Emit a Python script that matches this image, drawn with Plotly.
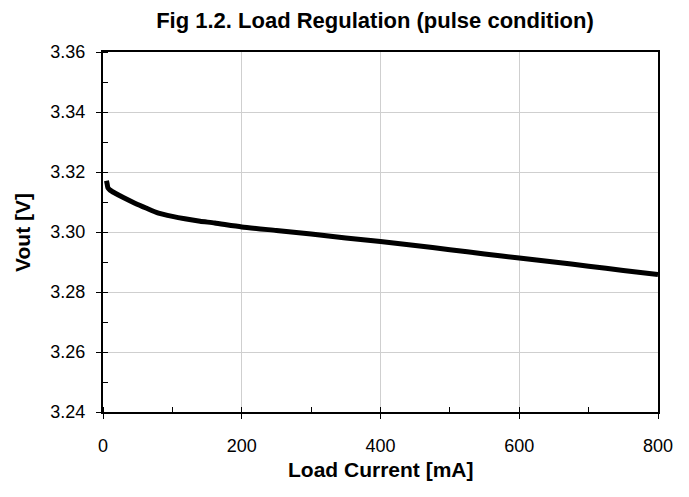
import plotly.graph_objects as go

current_ma = [5, 6, 7, 10, 17, 30, 46, 62, 80, 100, 118, 140, 161, 200, 250, 300, 350, 400, 450, 500, 550, 600, 650, 700, 750, 800]
vout_v = [3.3171, 3.3160, 3.3148, 3.3140, 3.3130, 3.3114, 3.3096, 3.3080, 3.3063, 3.3052, 3.3044, 3.3036, 3.3030, 3.3017, 3.3005, 3.2993, 3.2980, 3.2968, 3.2955, 3.2941, 3.2927, 3.2913, 3.2900, 3.2886, 3.2872, 3.2858]

x_ticks = [0, 200, 400, 600, 800]
y_ticks = [3.24, 3.26, 3.28, 3.30, 3.32, 3.34, 3.36]

title_text = "Fig 1.2. Load Regulation (pulse condition)"
x_title = "Load Current [mA]"
y_title = "Vout [V]"

fig = go.Figure()
fig.add_trace(go.Scatter(x=current_ma, y=vout_v, mode="lines",
                         line=dict(color="black", width=5, shape="spline", smoothing=0.6),
                         showlegend=False))

font = "Liberation Sans, Arial, sans-serif"
fig.update_layout(
    width=689, height=497,
    paper_bgcolor="white", plot_bgcolor="white",
    margin=dict(l=95, r=39, t=44, b=93),
    title=dict(text=f"<b>{title_text}</b>", x=0.49, xref="paper", xanchor="center",
               y=1 - 12 / 497, yref="container", yanchor="middle",
               font=dict(family=font, size=22, color="black")),
    font=dict(family=font, color="black"),
    annotations=[
        dict(text=f"<b>{x_title}</b>", xref="paper", yref="paper", x=0.5, y=-0.16,
             xanchor="center", yanchor="middle", showarrow=False,
             font=dict(family=font, size=21, color="black")),
        dict(text=f"<b>{y_title}</b>", xref="paper", yref="paper", x=-0.146, y=0.5,
             xanchor="center", yanchor="middle", textangle=-90, showarrow=False,
             font=dict(family=font, size=21, color="black")),
    ],
)
fig.update_xaxes(range=[0, 800], tickvals=x_ticks, ticktext=[str(v) for v in x_ticks],
                 showline=True, linecolor="black", linewidth=2, mirror=True,
                 showgrid=True, gridcolor="#cfcfcf", gridwidth=1,
                 ticks="outside", ticklen=5, tickwidth=1, tickcolor="black",
                 tickfont=dict(size=18, family=font, color="black"), ticklabelstandoff=11,
                 minor=dict(dtick=100, ticks="inside", ticklen=5, tickcolor="black", showgrid=False),
                 zeroline=False, automargin=False)
fig.update_yaxes(range=[3.24, 3.36], tickvals=y_ticks, ticktext=[f"{v:.2f}" for v in y_ticks],
                 showline=True, linecolor="black", linewidth=2, mirror=True,
                 showgrid=True, gridcolor="#cfcfcf", gridwidth=1,
                 ticks="outside", ticklen=5, tickwidth=1, tickcolor="black",
                 tickfont=dict(size=18, family=font, color="black"), ticklabelstandoff=7,
                 minor=dict(dtick=0.01, ticks="inside", ticklen=5, tickcolor="black", showgrid=False),
                 zeroline=False, automargin=False)

fig.write_html("out.html")
